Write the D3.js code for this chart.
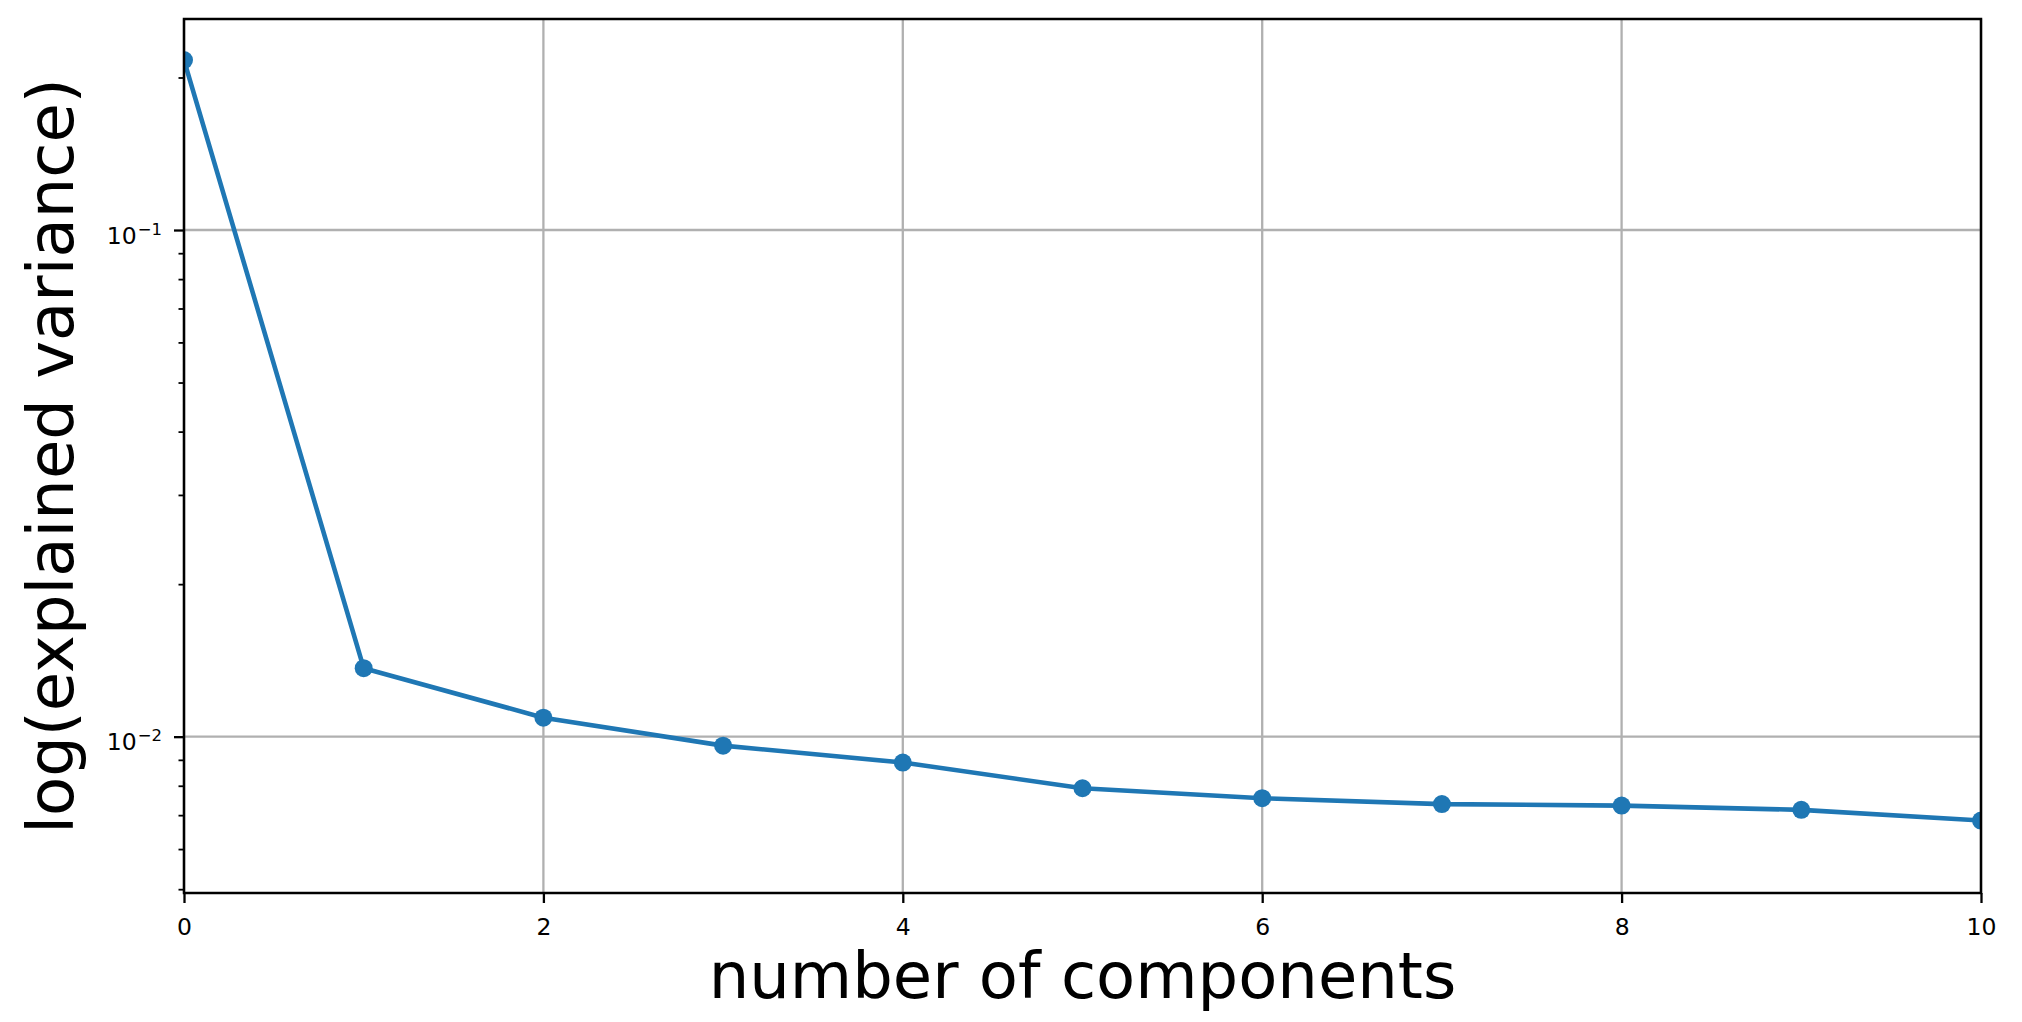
<!DOCTYPE html>
<html>
<head>
<meta charset="utf-8">
<script src="https://cdn.jsdelivr.net/npm/d3@7"></script>
<style>
  html, body { margin: 0; padding: 0; background: #ffffff; }
  svg { display: block; }
  text { font-family: "DejaVu Sans", sans-serif; fill: #000; }
</style>
</head>
<body>
<svg id="chart" width="2022" height="1022"></svg>
<script>
// ---- data ----
const components = [0, 1, 2, 3, 4, 5, 6, 7, 8, 9, 10];
const explainedVariance = [0.2165, 0.01365, 0.01090, 0.00960, 0.00889, 0.00791, 0.00756, 0.00736, 0.00731, 0.00717, 0.00683];
const xTickValues = [0, 2, 4, 6, 8, 10];
const yMajorTickValues = [0.1, 0.01];
const yMajorTickExponents = ["\u22121", "\u22122"];
const xDomain = [0, 10];
const yDomain = [0.004914, 0.2609];
const xLabel = "number of components";
const yLabel = "log(explained variance)";

// ---- layout ----
const W = 2022, H = 1022;
const margin = { left: 184, right: 2022 - 1981, top: 19, bottom: 1022 - 893 };
const plotW = W - margin.left - margin.right;
const plotH = H - margin.top - margin.bottom;

const svg = d3.select("#chart");
svg.append("rect").attr("width", W).attr("height", H).attr("fill", "#fff");

const g = svg.append("g").attr("transform", `translate(${margin.left},${margin.top})`);

const x = d3.scaleLinear().domain(xDomain).range([0, plotW]);
const y = d3.scaleLog().domain(yDomain).range([plotH, 0]);

// minor ticks (2..9 x 10^k within domain)
const yMinorTickValues = y.ticks().filter(v => {
  const m = v / Math.pow(10, Math.floor(Math.log10(v) + 1e-9));
  return Math.abs(m - 1) > 1e-6;
});

// grid
const grid = g.append("g").attr("class", "grid");
grid.selectAll("line.vx").data(xTickValues).join("line")
  .attr("x1", d => x(d)).attr("x2", d => x(d))
  .attr("y1", 0).attr("y2", plotH)
  .attr("stroke", "#b0b0b0").attr("stroke-width", 2.3);
grid.selectAll("line.hy").data(yMajorTickValues).join("line")
  .attr("x1", 0).attr("x2", plotW)
  .attr("y1", d => y(d)).attr("y2", d => y(d))
  .attr("stroke", "#b0b0b0").attr("stroke-width", 2.3);

// clip
svg.append("defs").append("clipPath").attr("id", "plotclip")
  .append("rect").attr("x", 0).attr("y", 0).attr("width", plotW).attr("height", plotH);

const dataG = g.append("g").attr("clip-path", "url(#plotclip)");
const pts = components.map((c, i) => [c, explainedVariance[i]]);
const line = d3.line().x(d => x(d[0])).y(d => y(d[1]));
dataG.append("path").datum(pts)
  .attr("d", line)
  .attr("fill", "none")
  .attr("stroke", "#1f77b4")
  .attr("stroke-width", 4.6)
  .attr("stroke-linejoin", "round")
  .attr("stroke-linecap", "square");
dataG.selectAll("circle").data(pts).join("circle")
  .attr("cx", d => x(d[0])).attr("cy", d => y(d[1]))
  .attr("r", 9)
  .attr("fill", "#1f77b4");

// x axis
const xAxis = d3.axisBottom(x).tickValues(xTickValues).tickSize(10).tickPadding(15.5).tickFormat(d3.format("d"));
const xg = g.append("g").attr("transform", `translate(0,${plotH})`).call(xAxis);
xg.select(".domain").remove();
xg.selectAll(".tick line").attr("stroke", "#000").attr("stroke-width", 2.3);
xg.selectAll(".tick text").attr("font-size", 23.5).attr("font-family", "DejaVu Sans").attr("fill", "#000");

// y axis major
const yAxis = d3.axisLeft(y).tickValues(yMajorTickValues).tickSize(10).tickPadding(12).tickFormat("");
const yg = g.append("g").call(yAxis);
yg.select(".domain").remove();
yg.selectAll(".tick line").attr("stroke", "#000").attr("stroke-width", 2.3);
yg.selectAll(".tick text").each(function(d, i) {
  const t = d3.select(this);
  t.text(null).attr("font-size", 23.5).attr("font-family", "DejaVu Sans").attr("fill", "#000").attr("dy", null).attr("y", 13);
  t.append("tspan").text("10");
  t.append("tspan").attr("font-size", 16.5).attr("dy", -9).attr("dx", 1).text(yMajorTickExponents[i]);
});

// y axis minor
const yMinorAxis = d3.axisLeft(y).tickValues(yMinorTickValues).tickSize(5.5).tickFormat("");
const ymg = g.append("g").call(yMinorAxis);
ymg.select(".domain").remove();
ymg.selectAll(".tick line").attr("stroke", "#000").attr("stroke-width", 1.8);
ymg.selectAll(".tick text").remove();

// spines
g.append("rect").attr("x", 0).attr("y", 0).attr("width", plotW).attr("height", plotH)
  .attr("fill", "none").attr("stroke", "#000").attr("stroke-width", 2.5);

// labels
svg.append("text")
  .attr("x", margin.left + plotW / 2).attr("y", 998)
  .attr("text-anchor", "middle").attr("font-size", 64)
  .text(xLabel);
svg.append("text")
  .attr("transform", `translate(73,${margin.top + plotH / 2}) rotate(-90)`)
  .attr("text-anchor", "middle").attr("font-size", 64)
  .text(yLabel);
</script>
</body>
</html>
